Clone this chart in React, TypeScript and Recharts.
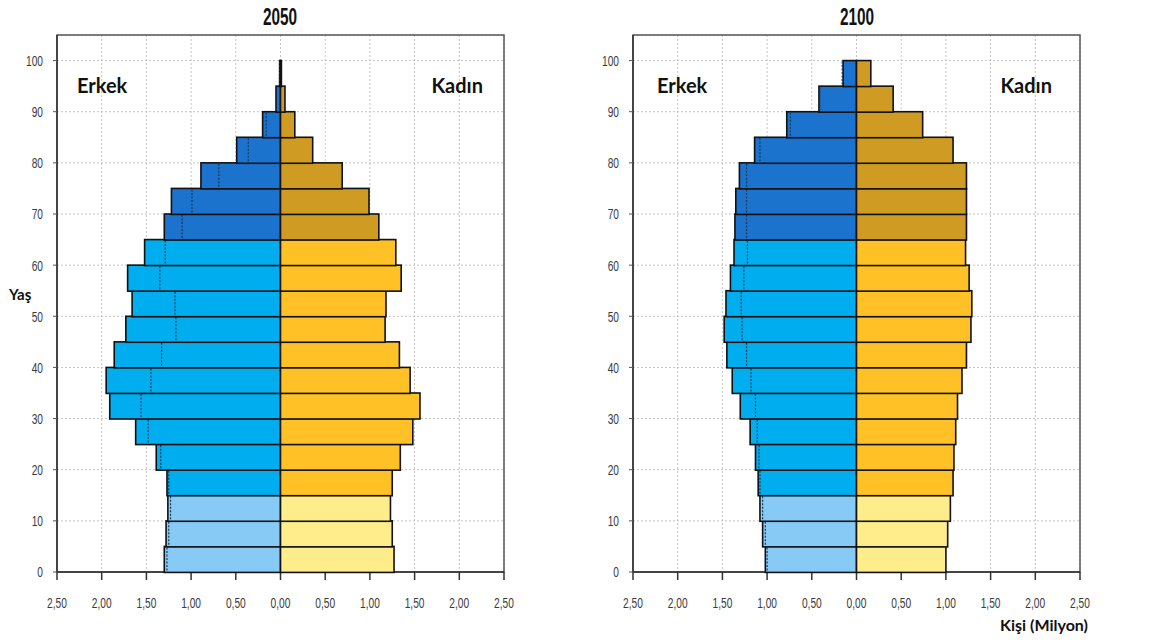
import React from 'react';
import { ComposedChart, Bar, XAxis, YAxis, CartesianGrid, ReferenceArea } from 'recharts';

// age groups, bottom to top
const ageGroups = ['0-4', '5-9', '10-14', '15-19', '20-24', '25-29', '30-34', '35-39', '40-44', '45-49',
  '50-54', '55-59', '60-64', '65-69', '70-74', '75-79', '80-84', '85-89', '90-94', '95-99', '100+'];

// million people
const male2050 = [1.30, 1.28, 1.26, 1.27, 1.39, 1.62, 1.91, 1.95, 1.86, 1.73, 1.66, 1.71, 1.52, 1.30, 1.22, 0.89, 0.49, 0.20, 0.05, 0.01, 0];
const female2050 = [1.27, 1.25, 1.23, 1.25, 1.34, 1.48, 1.56, 1.45, 1.33, 1.17, 1.18, 1.35, 1.29, 1.10, 0.99, 0.69, 0.36, 0.16, 0.05, 0.01, 0];
const male2100 = [1.02, 1.05, 1.08, 1.10, 1.13, 1.19, 1.30, 1.39, 1.45, 1.48, 1.46, 1.41, 1.37, 1.36, 1.35, 1.31, 1.14, 0.78, 0.42, 0.15, 0];
const female2100 = [1.00, 1.02, 1.05, 1.08, 1.09, 1.11, 1.13, 1.18, 1.23, 1.28, 1.29, 1.26, 1.22, 1.23, 1.23, 1.23, 1.08, 0.74, 0.41, 0.16, 0];

const xTicks = [-2.5, -2, -1.5, -1, -0.5, 0, 0.5, 1, 1.5, 2, 2.5];
const yTicks = [0, 10, 20, 30, 40, 50, 60, 70, 80, 90, 100];

const maleColors = ['#87CAF5', '#00AEEF', '#1B73CD'];
const femaleColors = ['#FFEC8B', '#FFC125', '#CF9B23'];

const tickFont = "'Liberation Sans', Arial, sans-serif";
const labelFont = "Lato, 'Open Sans', sans-serif";
const SQUEEZE = 0.68;

const groupOf = (i: number) => (i < 3 ? 0 : i < 13 ? 1 : 2);

const fmt = (v: number) => Math.abs(v).toFixed(2).replace('.', ',');

// narrow tick text, like the condensed face of the original
const NarrowTick = (props: any) => {
  const { x, y, payload, textAnchor, dy, format } = props;
  const label = format ? format(payload.value) : String(payload.value);
  return (
    <text
      x={x}
      y={y}
      dy={dy}
      textAnchor={textAnchor}
      fill="#3a3a3a"
      fontSize={15}
      fontFamily={tickFont}
      transform={`translate(${x} ${y}) scale(${SQUEEZE} 1) translate(${-x} ${-y})`}
    >
      {label}
    </text>
  );
};

const MaleShape = (props: any) => {
  const { x, y, width, height, payload } = props;
  if (!width || !payload.maleAbs) return null;
  const left = Math.min(x, x + width);
  const w = Math.abs(width);
  const zero = left + w;
  const dx = zero - payload.mirror * (w / payload.maleAbs);
  return (
    <g>
      <rect x={left} y={y} width={w} height={height} fill={maleColors[payload.group]} stroke="#111" strokeWidth={1.6} />
      <line x1={dx} x2={dx} y1={y + 1} y2={y + height - 1} stroke="#153a5c" strokeWidth={1.2} strokeDasharray="2 1.5" />
    </g>
  );
};

const FemaleShape = (props: any) => {
  const { x, y, width, height, payload } = props;
  if (!width) return null;
  const left = Math.min(x, x + width);
  return <rect x={left} y={y} width={Math.abs(width)} height={height} fill={femaleColors[payload.group]} stroke="#111" strokeWidth={1.6} />;
};

function Frame({ width }: { width: number }) {
  return (
    <ComposedChart width={width} height={644} data={[{ v: 0, a: 0 }]} margin={{ top: 35, right: width - 504, bottom: 42, left: 0 }}>
      <CartesianGrid stroke="#c4c4c4" strokeDasharray="2 2" />
      <XAxis
        type="number"
        dataKey="v"
        domain={[-2.5, 2.5]}
        ticks={xTicks}
        height={30}
        tickSize={8}
        tickMargin={17}
        axisLine={{ stroke: '#333', strokeWidth: 1.5 }}
        tickLine={{ stroke: '#333', strokeWidth: 1.5 }}
        tick={<NarrowTick dy="0.71em" format={fmt} />}
      />
      <YAxis
        type="number"
        dataKey="a"
        domain={[0, 105]}
        ticks={yTicks}
        width={57}
        tickSize={4}
        tickMargin={10}
        axisLine={{ stroke: '#333', strokeWidth: 1.5 }}
        tickLine={{ stroke: '#555' }}
        tick={<NarrowTick dy="0.36em" />}
      />
      <ReferenceArea x1={-2.5} x2={2.5} y1={0} y2={105} fill="none" stroke="#555" strokeWidth={1.5} />
    </ComposedChart>
  );
}

function Pyramid({ male, female, width }: { male: number[]; female: number[]; width: number }) {
  const data = ageGroups.map((age, i) => ({
    age,
    male: -male[i],
    maleAbs: male[i],
    female: female[i],
    mirror: female[i],
    group: groupOf(i),
  }));
  return (
    <ComposedChart
      width={width}
      height={644}
      data={data}
      layout="vertical"
      stackOffset="sign"
      barCategoryGap={0}
      barGap={0}
      margin={{ top: 35, right: width - 504, bottom: 72, left: 57 }}
    >
      <XAxis type="number" domain={[-2.5, 2.5]} hide />
      <YAxis type="category" dataKey="age" reversed hide />
      <Bar dataKey="male" stackId="p" shape={MaleShape} isAnimationActive={false} />
      <Bar dataKey="female" stackId="p" shape={FemaleShape} isAnimationActive={false} />
    </ComposedChart>
  );
}

const abs = (x: number, y: number): React.CSSProperties => ({ position: 'absolute', left: x, top: y });

export default function App() {
  const bold: React.CSSProperties = { fontFamily: labelFont, fontWeight: 700, color: '#111', lineHeight: 1, whiteSpace: 'nowrap' };
  const title: React.CSSProperties = {
    fontFamily: tickFont, fontWeight: 700, fontSize: 24, color: '#111', lineHeight: 1,
    width: 100, textAlign: 'center', transform: 'scaleX(0.64)',
  };
  return (
    <div style={{ position: 'absolute', left: 0, top: 0, width: 1158, height: 644, background: '#fff', overflow: 'hidden' }}>
      <div style={abs(0, 0)}>
        <Frame width={580} />
      </div>
      <div style={abs(0, 0)}>
        <Pyramid male={male2050} female={female2050} width={580} />
      </div>
      <div style={abs(576, 0)}>
        <Frame width={582} />
      </div>
      <div style={abs(576, 0)}>
        <Pyramid male={male2100} female={female2100} width={582} />
      </div>
      <div style={{ ...abs(230, 5), ...title }}>2050</div>
      <div style={{ ...abs(807, 5), ...title }}>2100</div>
      <div style={{ ...abs(77, 75), ...bold, fontSize: 20 }}>Erkek</div>
      <div style={{ ...abs(383, 75), ...bold, fontSize: 20, width: 100, textAlign: 'right' }}>Kadın</div>
      <div style={{ ...abs(657, 75), ...bold, fontSize: 20 }}>Erkek</div>
      <div style={{ ...abs(952, 75), ...bold, fontSize: 20, width: 100, textAlign: 'right' }}>Kadın</div>
      <div style={{ ...abs(9, 287), ...bold, fontSize: 15 }}>Yaş</div>
      <div style={{ ...abs(988, 617), ...bold, fontSize: 16, width: 100, textAlign: 'right' }}>Kişi (Milyon)</div>
    </div>
  );
}
